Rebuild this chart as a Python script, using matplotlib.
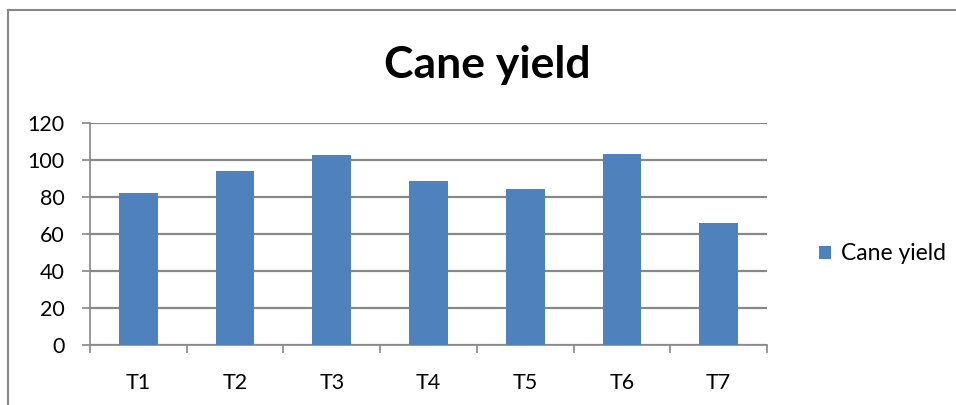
import matplotlib
matplotlib.use("Agg")
import matplotlib.pyplot as plt
from matplotlib.lines import Line2D
import numpy as np

categories = ["T1", "T2", "T3", "T4", "T5", "T6", "T7"]
cane_yield = [82.0, 94.2, 102.7, 88.8, 84.5, 103.2, 66.0]
yticks = [0, 20, 40, 60, 80, 100, 120]
series_name = "Cane yield"
title = "Cane yield"

W, H = 956, 405
plt.rcParams['font.family'] = ['Lato', 'DejaVu Sans']
fig = plt.figure(figsize=(W/100, H/100), dpi=100)
fig.patch.set_facecolor('white')

def px(x0, y0, x1, y1):
    return [x0 / W, 1 - y1 / H, (x1 - x0) / W, (y1 - y0) / H]

ax = fig.add_axes(px(90, 123, 767, 345))
x = np.arange(len(categories))
bars = ax.bar(x, cane_yield, width=0.4, color='#4F81BD', label=series_name, zorder=3)

grid_c = '#888888'
ax.set_xlim(-0.5, len(categories) - 0.5)
ax.set_ylim(0, 120)
ax.set_yticks(yticks)
ax.yaxis.grid(True, color=grid_c, linewidth=1.6, zorder=0)
ax.set_axisbelow(True)
for s in ['top', 'right']:
    ax.spines[s].set_visible(False)
for s in ['left', 'bottom']:
    ax.spines[s].set_color(grid_c)
    ax.spines[s].set_linewidth(1.2)

ax.set_xticks(x)
ax.set_xticklabels(categories)
ax.set_xticks(np.arange(-0.5, len(categories)), minor=True)
ax.tick_params(axis='x', which='major', length=0, pad=20.5, labelsize=15.5)
ax.tick_params(axis='x', which='minor', length=5.8, width=1.2, color=grid_c, direction='out')
ax.tick_params(axis='y', length=5.8, width=1.2, color=grid_c, pad=12.5, labelsize=15.5)

fig.text(487.5 / W, 1 - 78 / H, title, ha='center', va='baseline', fontsize=32, fontweight='bold')

leg = fig.legend(handles=[bars], labels=[series_name], loc='center left',
                 bbox_to_anchor=(808 / W, 1 - 254 / H), frameon=False, borderpad=0,
                 fontsize=16.5, handlelength=0.52, handleheight=0.52, handletextpad=0.44)

fig.add_artist(Line2D([7.5 / W, 7.5 / W], [0, 1 - 10 / H], color='#888888', linewidth=1.5))
fig.add_artist(Line2D([7.5 / W, 1], [1 - 10 / H, 1 - 10 / H], color='#888888', linewidth=1.5))

fig.savefig('out.png', dpi=100)
